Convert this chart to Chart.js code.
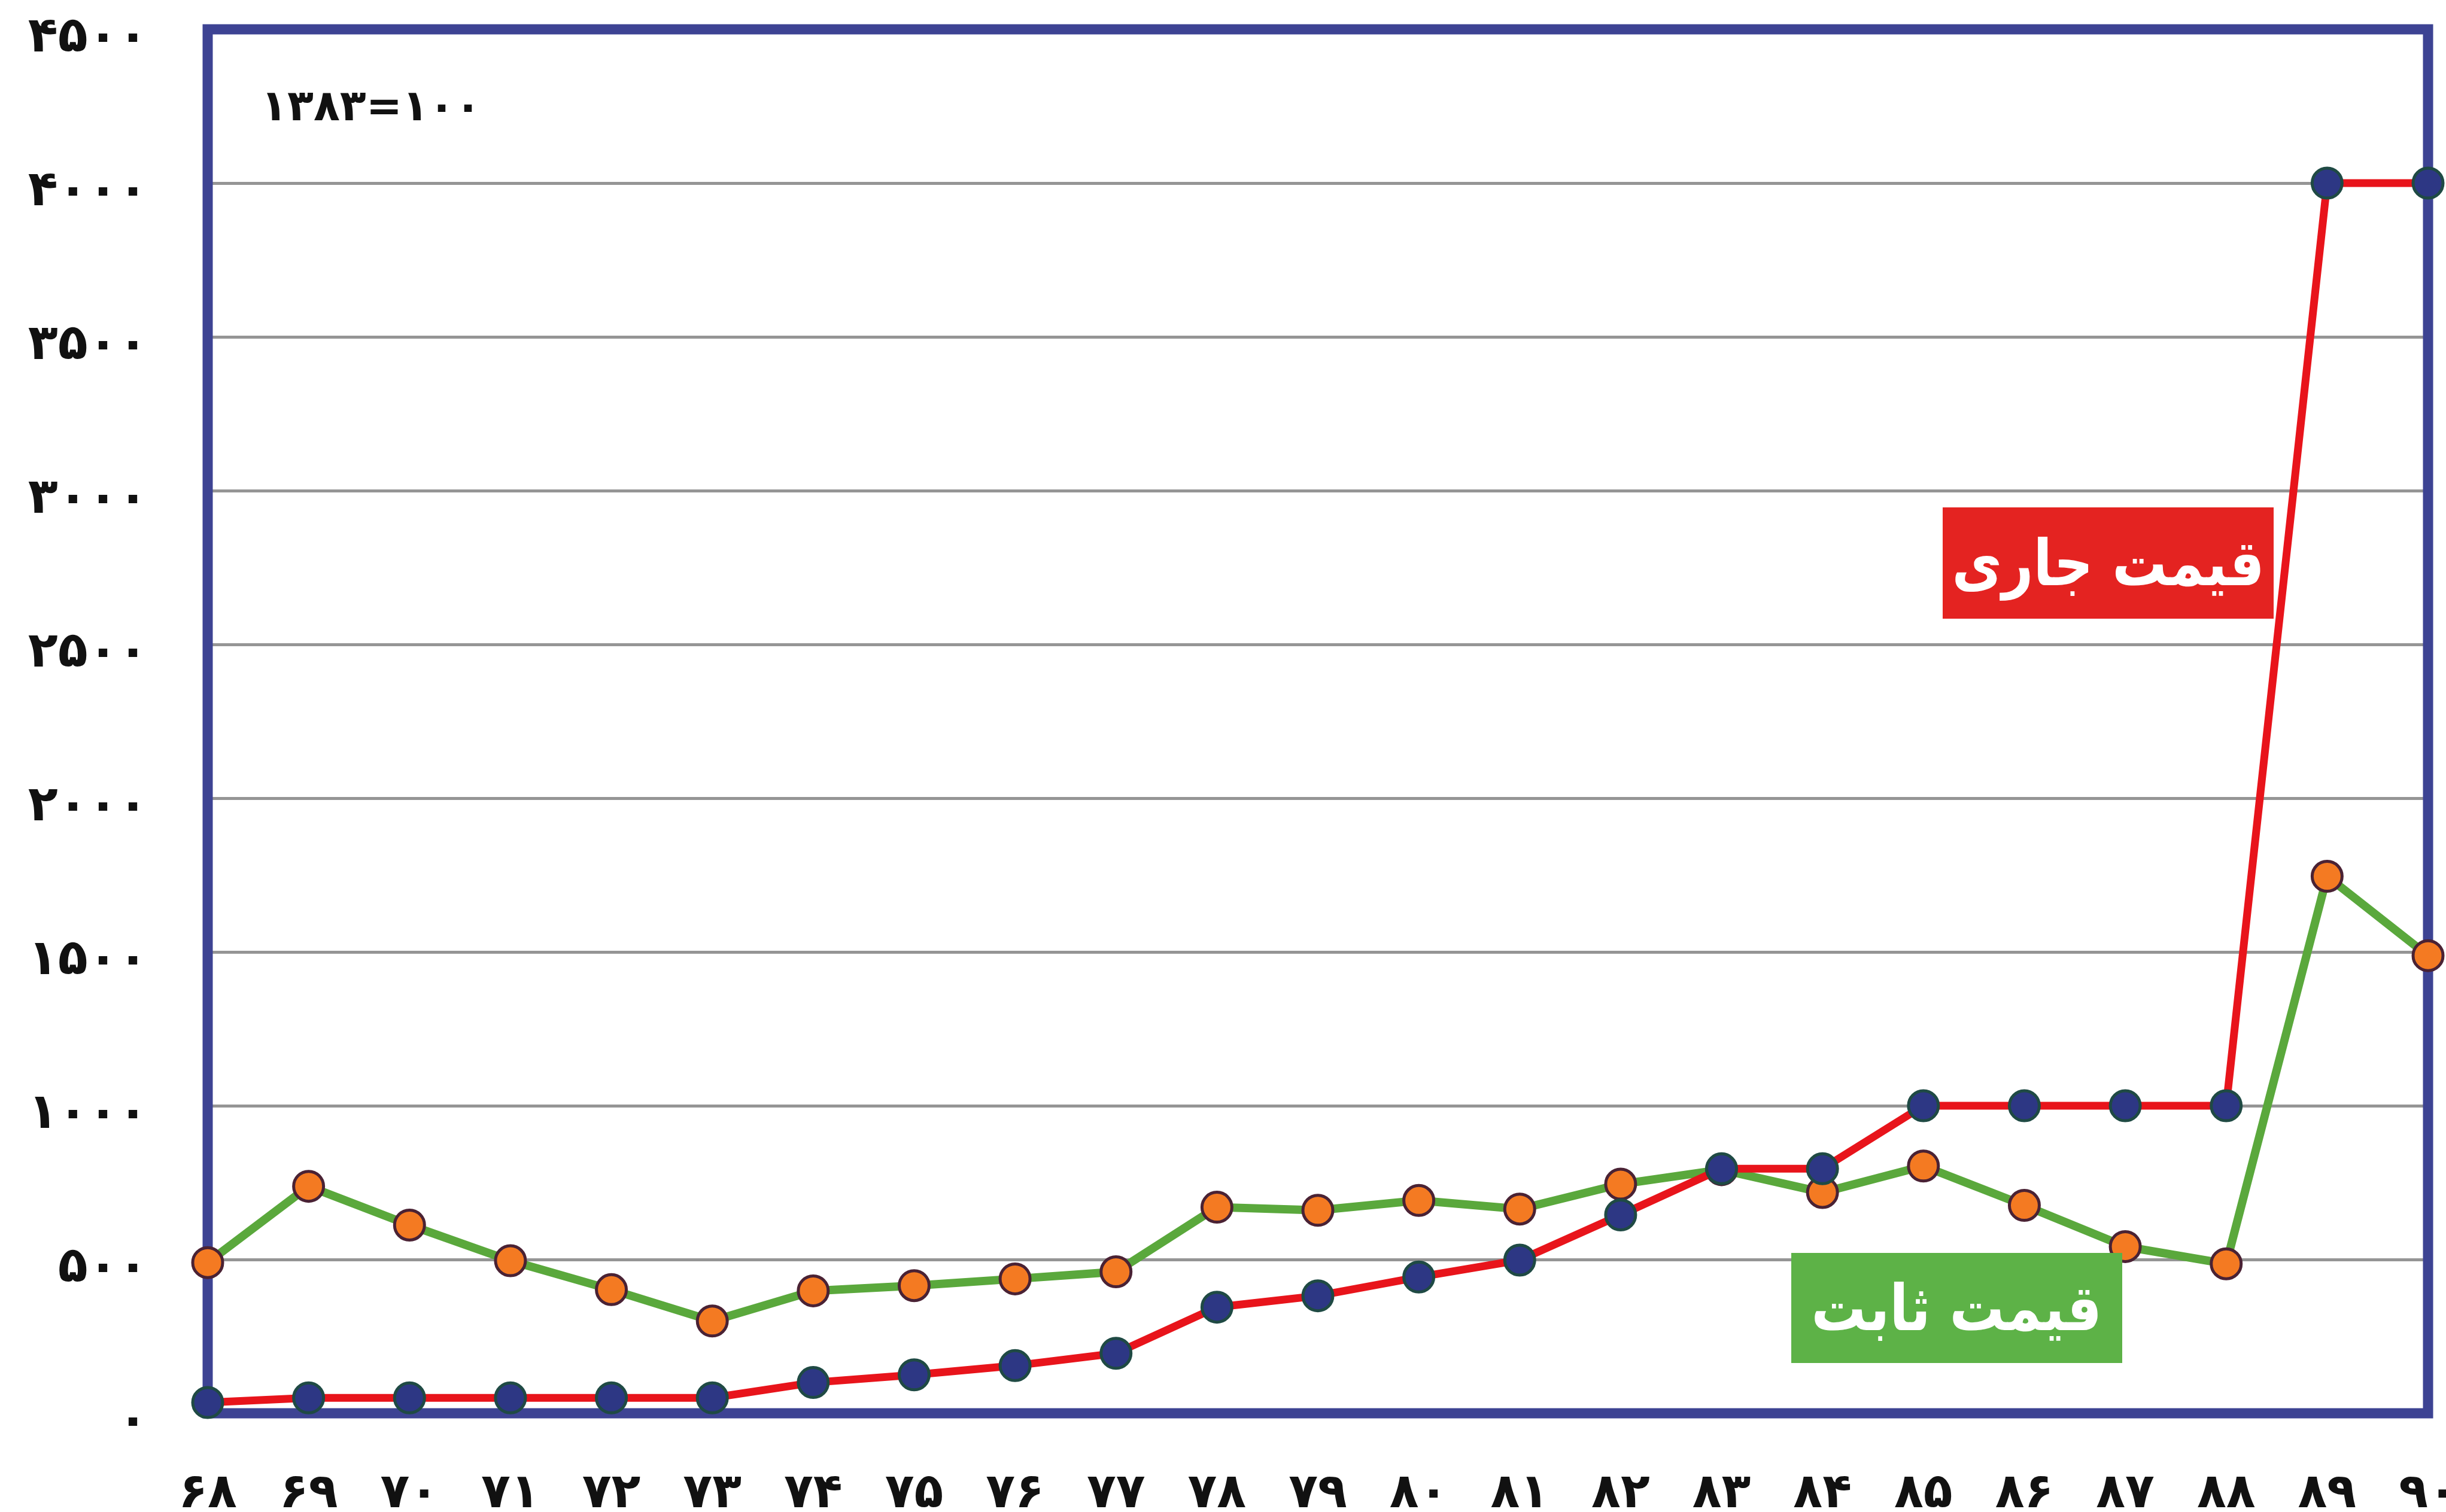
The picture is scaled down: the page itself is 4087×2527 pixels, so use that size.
<!DOCTYPE html>
<html>
<head>
<meta charset="utf-8">
<script src="https://cdn.jsdelivr.net/npm/chart.js@4"></script>
<style>
  body { margin: 0; background: #fff; }
  #wrap { position: relative; width: 4087px; height: 2527px; }
  .tag { position: absolute; color: #fff; font-family: 'DejaVu Sans'; font-weight: bold; white-space: nowrap;
         display: flex; align-items: center; justify-content: center; direction: rtl; }
  .tag span { display: inline-block; transform: scaleX(0.86); }
  #base { position: absolute; left: 436px; top: 134px; font-family: 'DejaVu Sans';
          font-weight: bold; font-size: 72px; color: #111; direction: ltr; }
</style>
</head>
<body>
<div id="wrap">
  <canvas id="chart" width="4087" height="2527"></canvas>
  <div id="base">۱۳۸۳=۱۰۰</div>
  <div class="tag" style="left:3246px;top:848px;width:553px;height:186px;background:#e42321;font-size:106px;"><span>قیمت جاری</span></div>
  <div class="tag" style="left:2993px;top:2094px;width:553px;height:184px;background:#5db247;font-size:106px;"><span>قیمت ثابت</span></div>
</div>
<script>
// years (Persian digits)
const years = ['۶۸','۶۹','۷۰','۷۱','۷۲','۷۳','۷۴','۷۵','۷۶','۷۷','۷۸','۷۹','۸۰','۸۱','۸۲','۸۳','۸۴','۸۵','۸۶','۸۷','۸۸','۸۹','۹۰'];
// current prices (red)
const currentPrice = [35, 50, 50, 50, 50, 50, 100, 125, 155, 195, 345, 382, 443, 498, 645, 795, 795, 1000, 1000, 1000, 1000, 4000, 4000];
// constant prices (green)
const constantPrice = [490, 738, 612, 496, 402, 300, 398, 415, 437, 460, 670, 660, 692, 664, 745, 792, 718, 804, 676, 542, 486, 1746, 1488];
const yTickLabels = ['۰','۵۰۰','۱۰۰۰','۱۵۰۰','۲۰۰۰','۲۵۰۰','۳۰۰۰','۳۵۰۰','۴۰۰۰','۴۵۰۰'];

const frame = {
  id: 'frame',
  beforeDatasetsDraw(chart) {
    const a = chart.chartArea, ctx = chart.ctx;
    ctx.save();
    ctx.strokeStyle = '#3d4393';
    ctx.lineWidth = 17;
    ctx.strokeRect(a.left, a.top, a.right - a.left, a.bottom - a.top);
    ctx.restore();
  }
};

new Chart(document.getElementById('chart'), {
  type: 'line',
  data: {
    labels: years,
    datasets: [{
      label: 'قیمت جاری',
      data: currentPrice,
      borderColor: '#e8141b',
      borderWidth: 13,
      pointBackgroundColor: '#2d3784',
      pointBorderColor: '#1f4a44',
      pointBorderWidth: 5,
      pointRadius: 25,
      clip: false,
      order: 1
    }, {
      label: 'قیمت ثابت',
      data: constantPrice,
      borderColor: '#5aa83c',
      borderWidth: 14,
      pointBackgroundColor: '#f47a22',
      pointBorderColor: '#4a2234',
      pointBorderWidth: 5,
      pointRadius: 25,
      clip: false,
      order: 2
    }]
  },
  options: {
    responsive: false,
    devicePixelRatio: 1,
    animation: false,
    layout: { padding: { left: 0, top: 49, right: 20, bottom: 0 } },
    plugins: { legend: { display: false }, tooltip: { enabled: false } },
    scales: {
      x: {
        grid: { display: false },
        border: { display: false },
        ticks: {
          color: '#111',
          font: { family: 'DejaVu Sans', weight: 'bold', size: 80 },
          padding: 80,
          maxRotation: 0,
          autoSkip: false
        },
        afterFit(s) { s.height = 165; s.paddingLeft = 0; s.paddingRight = 0; }
      },
      y: {
        min: 0,
        max: 4500,
        grid: { color: '#959595', lineWidth: 5, drawTicks: false },
        border: { display: false },
        ticks: {
          stepSize: 500,
          color: '#111',
          font: { family: 'DejaVu Sans', weight: 'bold', size: 82 },
          padding: 100,
          labelOffset: 16,
          callback: (v, i) => yTickLabels[i]
        },
        afterFit(s) { s.width = 347; s.paddingTop = 0; s.paddingBottom = 0; }
      }
    }
  },
  plugins: [frame]
});
</script>
</body>
</html>
